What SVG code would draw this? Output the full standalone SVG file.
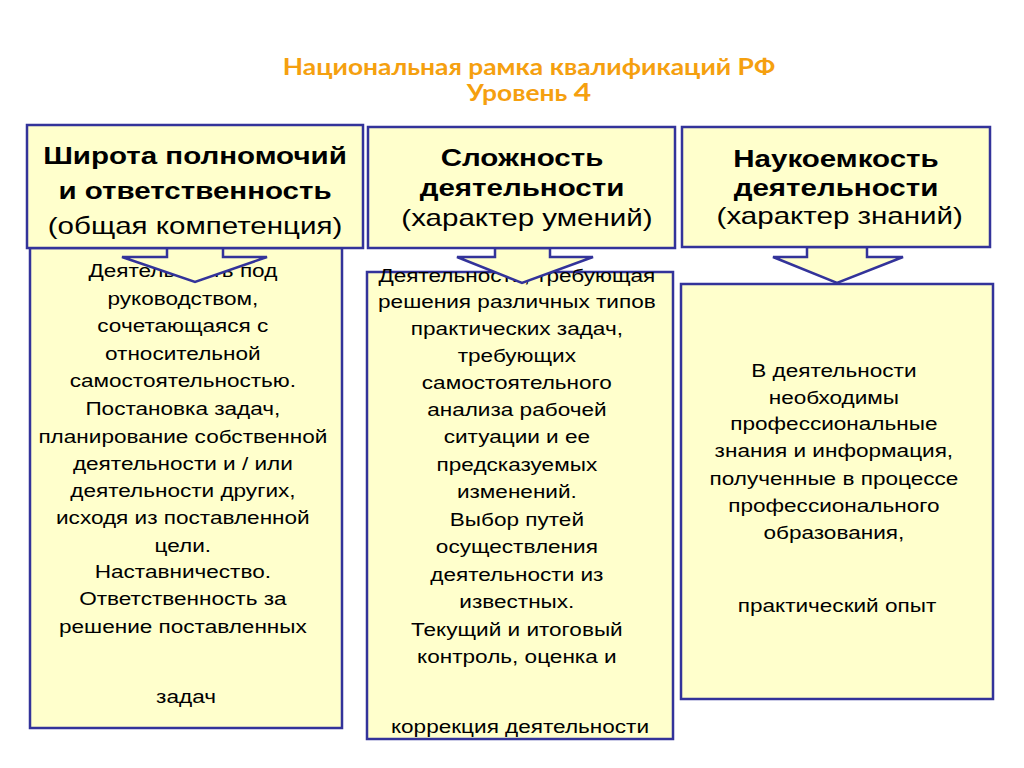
<svg xmlns="http://www.w3.org/2000/svg" width="1024" height="768" viewBox="0 0 1024 768">
<style>
.box{fill:#ffffcc;stroke:#33339a;stroke-width:2.5}
.arr{fill:#ffffcc;stroke:#33339a;stroke-width:2.5;stroke-linejoin:miter}
.t{font-family:"Liberation Sans",Arial,sans-serif;fill:#000;text-anchor:middle}
.h{font-size:24px;font-weight:bold}
.hs{font-size:24px}
.b{font-size:18.5px}
.title{font-family:Lato,Carlito,"Open Sans",sans-serif;font-weight:bold;font-size:22px;fill:#f5a00f;text-anchor:middle}
</style>
<rect width="1024" height="768" fill="#ffffff"/>
<g id="title" transform="translate(529 0) scale(1.2 1)">
<text class="title" x="0" y="75">Национальная рамка квалификаций РФ</text>
<text class="title" x="0" y="101">Уровень <tspan font-size="25">4</tspan></text>
</g>
<g id="body1">
<rect class="box" x="30" y="248" width="312" height="480"/>
<g transform="translate(186 0) scale(1.22 1)">
<text class="t b">
<tspan x="0" y="277">Деятельность под</tspan>
<tspan x="0" y="305">руководством,</tspan>
<tspan x="0" y="332">сочетающаяся с</tspan>
<tspan x="0" y="360">относительной</tspan>
<tspan x="0" y="387">самостоятельностью.</tspan>
<tspan x="0" y="415">Постановка задач,</tspan>
<tspan x="0" y="443">планирование собственной</tspan>
<tspan x="0" y="470">деятельности  и / или</tspan>
<tspan x="0" y="497">деятельности других,</tspan>
<tspan x="0" y="524">исходя из поставленной</tspan>
<tspan x="0" y="552">цели.</tspan>
<tspan x="0" y="578">Наставничество.</tspan>
<tspan x="0" y="605">Ответственность за</tspan>
<tspan x="0" y="633">решение поставленных</tspan>
<tspan x="0" y="703">задач</tspan>
</text>
</g>
</g>
<g id="body2">
<rect class="box" x="367" y="272" width="306" height="467"/>
<g transform="translate(520 0) scale(1.22 1)">
<text class="t b">
<tspan x="0" y="282">Деятельность, требующая</tspan>
<tspan x="0" y="308">решения различных типов</tspan>
<tspan x="0" y="335">практических задач,</tspan>
<tspan x="0" y="362">требующих</tspan>
<tspan x="0" y="389">самостоятельного</tspan>
<tspan x="0" y="416">анализа рабочей</tspan>
<tspan x="0" y="443">ситуации и ее</tspan>
<tspan x="0" y="471">предсказуемых</tspan>
<tspan x="0" y="498">изменений.</tspan>
<tspan x="0" y="526">Выбор путей</tspan>
<tspan x="0" y="553">осуществления</tspan>
<tspan x="0" y="581">деятельности из</tspan>
<tspan x="0" y="608">известных.</tspan>
<tspan x="0" y="636">Текущий и итоговый</tspan>
<tspan x="0" y="663">контроль, оценка и</tspan>
<tspan x="0" y="733">коррекция деятельности</tspan>
</text>
</g>
</g>
<g id="body3">
<rect class="box" x="681" y="284" width="312" height="415"/>
<g transform="translate(837 0) scale(1.22 1)">
<text class="t b">
<tspan x="0" y="377">В деятельности</tspan>
<tspan x="0" y="404">необходимы</tspan>
<tspan x="0" y="430">профессиональные</tspan>
<tspan x="0" y="457">знания и информация,</tspan>
<tspan x="0" y="485">полученные в процессе</tspan>
<tspan x="0" y="512">профессионального</tspan>
<tspan x="0" y="539">образования,</tspan>
<tspan x="0" y="612">практический опыт</tspan>
</text>
</g>
</g>
<g id="connectors">
<polygon class="arr" points="167,248 223,248 223,257 267,257 195,282 122,257 167,257"/>
<polygon class="arr" points="495,248 550,248 550,257 593,257 522,283 457,257 495,257"/>
<polygon class="arr" points="807,247 867,247 867,257 903,257 837,283 773,257 807,257"/>
</g>
<g id="head1">
<rect class="box" x="27" y="125" width="336" height="123"/>
<g transform="translate(195 0) scale(1.23 1)">
<text class="t h" x="0" y="164">Широта полномочий</text>
<text class="t h" x="0" y="199">и ответственность</text>
<text class="t hs" x="0" y="234">(общая компетенция)</text>
</g>
</g>
<g id="head2">
<rect class="box" x="368" y="127" width="307" height="121"/>
<g transform="translate(522 0) scale(1.23 1)">
<text class="t h" x="0" y="166">Сложность</text>
<text class="t h" x="0" y="196">деятельности</text>
<text class="t hs" x="4" y="226">(характер умений)</text>
</g>
</g>
<g id="head3">
<rect class="box" x="682" y="127" width="308" height="120"/>
<g transform="translate(836 0) scale(1.23 1)">
<text class="t h" x="0" y="167">Наукоемкость</text>
<text class="t h" x="0" y="196">деятельности</text>
<text class="t hs" x="3" y="224">(характер знаний)</text>
</g>
</g>
</svg>
